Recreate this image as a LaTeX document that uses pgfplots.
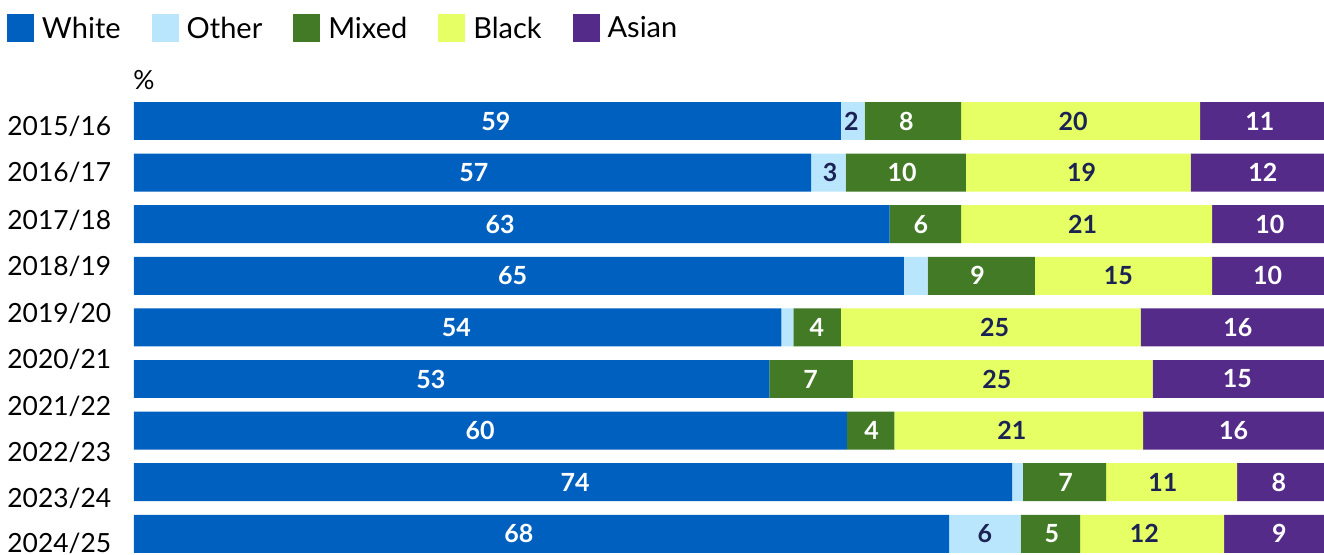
\documentclass[border=0pt]{standalone}
\usepackage{pgfplots}
\usepackage{pgfplotstable}
\usepackage{fontspec}
\setmainfont{Lato}
\pgfplotsset{compat=1.18}
\definecolor{cWhite}{RGB}{0,96,192}
\definecolor{cOther}{RGB}{186,230,253}
\definecolor{cMixed}{RGB}{66,122,38}
\definecolor{cBlack}{RGB}{229,255,100}
\definecolor{cAsian}{RGB}{85,43,138}
\definecolor{cNavy}{RGB}{27,35,84}

\pgfplotstableread{
y White Other Mixed Black Asian
0 59.4 2.0 8.1 20.1 10.4
1 56.9 2.9 10.1 18.9 11.2
2 63.5 0.0 6.0 21.1 9.4
3 64.7 2.0 9.0 14.9 9.4
4 54.4 1.0 4.0 25.2 15.4
5 53.4 0.0 7.0 25.2 14.4
6 59.9 0.0 4.0 20.9 15.2
7 73.8 0.9 7.0 11.0 7.3
8 68.5 6.0 5.0 12.1 8.4
}\shares

\pgfplotstableread{
x y l
30.40 0 59
64.91 0 8
94.62 0 11
28.55 1 57
64.54 1 10
94.87 1 12
30.76 2 63
66.13 2 6
95.46 2 10
31.81 3 65
70.89 3 9
95.26 3 10
27.08 4 54
57.39 4 4
92.76 4 16
24.94 5 53
56.85 5 7
92.71 5 15
29.08 6 60
61.98 6 4
92.40 6 16
37.06 7 74
78.29 7 7
96.20 7 8
32.34 8 68
77.14 8 5
96.25 8 9
}\lightlabels

\pgfplotstableread{
x y l
60.29 0 2
78.91 0 20
58.49 1 3
79.63 1 19
79.71 2 21
82.73 3 15
72.32 4 25
72.52 5 25
73.78 6 21
86.45 7 11
71.50 8 6
84.91 8 12
}\darklabels

\begin{document}
\begin{tikzpicture}
\begin{axis}[
  name=ax,
  at={(0,0)}, anchor=south west,
  scale only axis,
  clip=false,
  width=595pt, height=225.5pt,
  xbar stacked,
  bar width=0.736,
  xmin=0, xmax=100,
  ymin=-0.37, ymax=8.37,
  y dir=reverse,
  hide x axis,
  axis y line*=left,
  y axis line style={draw=none},
  major tick length=0pt,
  ytick={0.097,0.998,1.919,2.820,3.721,4.618,5.523,6.428,7.320,8.178},
  yticklabels={2015/16,2016/17,2017/18,2018/19,2019/20,2020/21,2021/22,2022/23,2023/24,2024/25},
  yticklabel style={anchor=west, inner sep=0pt, xshift=-63.5pt, font=\fontsize{13.2}{15}\selectfont, text=black},
  legend image code/.code={\path[#1,draw=none] (0pt,-6.5pt) rectangle (13.5pt,7.5pt);},
  legend columns=5,
  legend cell align=left,
  legend style={at={(axis description cs:0,1)}, anchor=north west, xshift=-63.5pt, yshift=44pt,
    draw=none, fill=none, inner sep=0pt, outer sep=0pt,
    font=\fontsize{14.5}{16}\selectfont,
    nodes={inner sep=0pt},
    column sep=4pt,
    /tikz/every even column/.append style={column sep=15.5pt}},
]
\addplot[fill=cWhite, draw=none] table[x=White, y=y] {\shares};
\addlegendentry{White}
\addplot[fill=cOther, draw=none] table[x=Other, y=y] {\shares};
\addlegendentry{Other}
\addplot[fill=cMixed, draw=none] table[x=Mixed, y=y] {\shares};
\addlegendentry{Mixed}
\addplot[fill=cBlack, draw=none] table[x=Black, y=y] {\shares};
\addlegendentry{Black}
\addplot[fill=cAsian, draw=none] table[x=Asian, y=y] {\shares};
\addlegendentry{Asian}
\node[anchor=base west, inner sep=0pt, font=\fontsize{13.2}{15}\selectfont] at ([yshift=6pt,xshift=-0.5pt]rel axis cs:0,1) {\%};
\end{axis}
\begin{axis}[
  at={(0,0)}, anchor=south west,
  scale only axis,
  width=595pt, height=225.5pt,
  xmin=0, xmax=100,
  ymin=-0.37, ymax=8.37,
  y dir=reverse,
  hide axis,
]
\addplot[draw=none, mark=none, nodes near coords, point meta=explicit symbolic,
  every node near coord/.append style={anchor=center, text=white, font=\bfseries\fontsize{12.5}{14}\selectfont}]
  table[x=x, y=y, meta=l] {\lightlabels};
\addplot[draw=none, mark=none, nodes near coords, point meta=explicit symbolic,
  every node near coord/.append style={anchor=center, text=cNavy, font=\bfseries\fontsize{12.5}{14}\selectfont}]
  table[x=x, y=y, meta=l] {\darklabels};
\end{axis}
\pgfresetboundingbox
\useasboundingbox ([xshift=-67pt,yshift=-0.55pt]ax.south west) rectangle ([yshift=50.95pt]ax.north east);
\end{tikzpicture}
\end{document}
